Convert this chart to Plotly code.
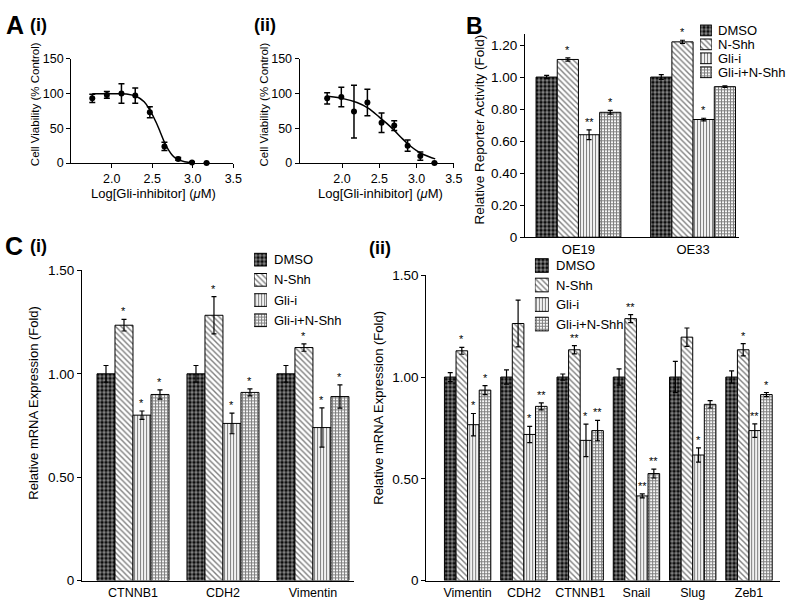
import plotly.graph_objects as go

FONT = "Liberation Sans, Arial, Helvetica, sans-serif"
W, H = 800, 613

# ---------------- panel A : dose response ----------------
a1_dose = [1.76, 1.94, 2.12, 2.29, 2.47, 2.65, 2.82, 2.99, 3.17]
a1_viab = [93, 98, 100, 97, 73, 24, 6, 1, 0]
a1_err = [6, 5, 14, 11, 8, 6, 2, 1, 0]
a1_fit_x = [1.76, 2.0, 2.2, 2.3, 2.4, 2.47, 2.55, 2.6, 2.65, 2.7, 2.75, 2.8, 2.9, 3.0]
a1_fit_y = [99.5, 99.5, 99, 96, 88, 76, 58, 44, 30, 19, 11, 6, 2, 0.5]

a2_dose = [1.80, 1.99, 2.16, 2.34, 2.53, 2.70, 2.88, 3.05, 3.24]
a2_viab = [93, 95, 74, 87, 58, 54, 25, 10, 0]
a2_err = [8, 14, 38, 19, 14, 7, 8, 6, 0]
a2_fit_x = [1.80, 2.0, 2.2, 2.35, 2.5, 2.6, 2.7, 2.8, 2.9, 3.0, 3.1, 3.25]
a2_fit_y = [96, 93, 87, 79, 66, 57, 47, 36, 26, 18, 12, 6]

# ---------------- shared treatment groups ----------------
groups = ["DMSO", "N-Shh", "Gli-i", "Gli-i+N-Shh"]

# ---------------- panel B : reporter activity ----------------
b_lines = ["OE19", "OE33"]
b_dmso = [1.00, 1.00]
b_nshh = [1.11, 1.22]
b_glii = [0.64, 0.735]
b_combo = [0.78, 0.94]
b_dmso_err = [0.01, 0.015]
b_nshh_err = [0.01, 0.01]
b_glii_err = [0.03, 0.008]
b_combo_err = [0.012, 0.005]
b_dmso_sig = ["", ""]
b_nshh_sig = ["*", "*"]
b_glii_sig = ["**", "*"]
b_combo_sig = ["*", ""]

# ---------------- panel C(i) ----------------
c1_genes = ["CTNNB1", "CDH2", "Vimentin"]
c1_dmso = [1.00, 1.00, 1.00]
c1_nshh = [1.235, 1.283, 1.127]
c1_glii = [0.80, 0.76, 0.74]
c1_combo = [0.90, 0.91, 0.89]
c1_dmso_err = [0.04, 0.04, 0.04]
c1_nshh_err = [0.028, 0.09, 0.018]
c1_glii_err = [0.02, 0.05, 0.095]
c1_combo_err = [0.022, 0.017, 0.056]
c1_dmso_sig = ["", "", ""]
c1_nshh_sig = ["*", "*", "*"]
c1_glii_sig = ["*", "*", "*"]
c1_combo_sig = ["*", "*", "*"]

# ---------------- panel C(ii) ----------------
c2_genes = ["Vimentin", "CDH2", "CTNNB1", "Snail", "Slug", "Zeb1"]
c2_dmso = [1.00, 1.00, 1.00, 1.00, 1.00, 1.00]
c2_nshh = [1.129, 1.263, 1.134, 1.287, 1.196, 1.134]
c2_glii = [0.766, 0.718, 0.689, 0.416, 0.617, 0.737]
c2_combo = [0.936, 0.856, 0.737, 0.526, 0.866, 0.914]
c2_dmso_err = [0.022, 0.035, 0.015, 0.04, 0.077, 0.03]
c2_nshh_err = [0.017, 0.115, 0.02, 0.02, 0.045, 0.03]
c2_glii_err = [0.055, 0.04, 0.08, 0.01, 0.035, 0.033]
c2_combo_err = [0.022, 0.017, 0.05, 0.022, 0.018, 0.01]
c2_dmso_sig = ["", "", "", "", "", ""]
c2_nshh_sig = ["*", "", "**", "**", "", "*"]
c2_glii_sig = ["*", "*", "*", "**", "*", "**"]
c2_combo_sig = ["*", "**", "**", "**", "", "*"]

patterns = {
    "DMSO": dict(shape=".", fgcolor="white", bgcolor="black", size=4, solidity=0.6),
    "N-Shh": dict(shape="\\", fgcolor="black", bgcolor="white", size=4, solidity=0.35),
    "Gli-i": dict(shape="|", fgcolor="black", bgcolor="white", size=3, solidity=0.4),
    "Gli-i+N-Shh": dict(shape="+", fgcolor="black", bgcolor="white", size=3, solidity=0.6),
}

fig = go.Figure()


def px_x(p):
    return p / W


def px_y(p):
    return 1 - p / H


def note(txt, x0, y0, size, angle=0, anchor="center"):
    fig.add_annotation(x=px_x(x0), y=px_y(y0), xref="paper", yref="paper", text=txt,
                       showarrow=False, xanchor=anchor, yanchor="middle", textangle=angle,
                       font=dict(size=size, family=FONT, color="black"))


# dose response panels
for n, (dx, vy, ey, fx, fy) in enumerate([(a1_dose, a1_viab, a1_err, a1_fit_x, a1_fit_y),
                                         (a2_dose, a2_viab, a2_err, a2_fit_x, a2_fit_y)]):
    ax = "" if n == 0 else "2"
    fig.add_trace(go.Scatter(x=fx, y=fy, mode="lines", line=dict(color="black", width=1.5, shape="spline"),
                             xaxis="x" + ax, yaxis="y" + ax, cliponaxis=False))
    fig.add_trace(go.Scatter(x=dx, y=vy, mode="markers", marker=dict(color="black", size=6),
                             error_y=dict(type="data", array=ey, color="black", thickness=1.5, width=3),
                             xaxis="x" + ax, yaxis="y" + ax, cliponaxis=False))


def bar_panel(ax, cats, vals, errs, sigs, bw):
    for i, g in enumerate(groups):
        xs = [k + (i - 1.5) * bw for k in range(len(cats))]
        fig.add_trace(go.Bar(
            x=xs, y=vals[i], width=bw, name=g,
            marker=dict(color="white", pattern=patterns[g], line=dict(color="black", width=1)),
            error_y=dict(type="data", array=errs[i], color="black", thickness=1.2, width=2.5),
            xaxis="x" + ax, yaxis="y" + ax))
        # significance stars sit just above each error bar
        for xv, v, e, s in zip(xs, vals[i], errs[i], sigs[i]):
            if s:
                fig.add_annotation(x=xv, y=v + e, xref="x" + ax, yref="y" + ax, text=s,
                                   showarrow=False, xanchor="center", yanchor="bottom",
                                   font=dict(size=11, family=FONT, color="black"))


def key_box(ax, left, right, first_row, step, icon_h, text_left, fsize):
    # hand-made legend: patterned squares on a hidden axis, labels beside them
    for i, g in enumerate(groups):
        fig.add_trace(go.Bar(
            x=[0], y=[icon_h / step], base=[i - icon_h / step / 2], width=1,
            marker=dict(color="white", pattern=patterns[g], line=dict(color="black", width=1)),
            xaxis="x" + ax, yaxis="y" + ax, hoverinfo="skip"))
        note(g, text_left, first_row + i * step, fsize, anchor="left")
    hidden = dict(visible=False, showgrid=False, zeroline=False, fixedrange=True)
    fig.update_layout(**{
        "xaxis" + ax: dict(domain=[px_x(left), px_x(right)], range=[-0.5, 0.5], anchor="y" + ax, **hidden),
        "yaxis" + ax: dict(domain=[px_y(first_row + 3.5 * step), px_y(first_row - 0.5 * step)],
                           range=[3.5, -0.5], anchor="x" + ax, **hidden),
    })


bar_panel("3", b_lines, [b_dmso, b_nshh, b_glii, b_combo],
          [b_dmso_err, b_nshh_err, b_glii_err, b_combo_err],
          [b_dmso_sig, b_nshh_sig, b_glii_sig, b_combo_sig], 0.185)
bar_panel("4", c1_genes, [c1_dmso, c1_nshh, c1_glii, c1_combo],
          [c1_dmso_err, c1_nshh_err, c1_glii_err, c1_combo_err],
          [c1_dmso_sig, c1_nshh_sig, c1_glii_sig, c1_combo_sig], 0.2)
bar_panel("5", c2_genes, [c2_dmso, c2_nshh, c2_glii, c2_combo],
          [c2_dmso_err, c2_nshh_err, c2_glii_err, c2_combo_err],
          [c2_dmso_sig, c2_nshh_sig, c2_glii_sig, c2_combo_sig], 0.206)

key_box("6", 708, 720, 24, 14.3, 11, 724, 13)
key_box("7", 257, 270, 259, 20.7, 13, 275, 13)
key_box("8", 541, 555, 265, 20, 14, 560, 13)

axis_common = dict(showline=True, linecolor="black", linewidth=1, showgrid=False, zeroline=False,
                   tickcolor="black")
tick_a = dict(size=12.5, color="black", family=FONT)
tick_bc = dict(size=13.5, color="black", family=FONT)

fig.update_layout(
    width=W, height=H, margin=dict(l=0, r=0, t=0, b=0),
    paper_bgcolor="white", plot_bgcolor="white", barmode="overlay",
    font=dict(family=FONT, color="black"), showlegend=False,
    xaxis=dict(domain=[px_x(72), px_x(236)], range=[1.5, 3.5], anchor="y",
               tickvals=[2.0, 2.5, 3.0, 3.5], ticktext=["2.0", "2.5", "3.0", "3.5"], tickfont=tick_a,
               ticks="outside", ticklen=4, **axis_common),
    yaxis=dict(domain=[px_y(160), px_y(53)], range=[0, 150], anchor="x", tickfont=tick_a,
               tickvals=[0, 50, 100, 150], ticks="outside", ticklen=4, **axis_common),
    xaxis2=dict(domain=[px_x(303), px_x(459)], range=[1.43, 3.5], anchor="y2",
                tickvals=[2.0, 2.5, 3.0, 3.5], ticktext=["2.0", "2.5", "3.0", "3.5"], tickfont=tick_a,
                ticks="outside", ticklen=4, **axis_common),
    yaxis2=dict(domain=[px_y(160), px_y(53)], range=[0, 150], anchor="x2", tickfont=tick_a,
                tickvals=[0, 50, 100, 150], ticks="outside", ticklen=4, **axis_common),
    xaxis3=dict(domain=[px_x(531), px_x(747)], range=[-0.466, 1.397], anchor="y3",
                tickvals=list(range(len(b_lines))), ticktext=b_lines, ticks="",
                tickfont=dict(size=13, color="black", family=FONT), **axis_common),
    yaxis3=dict(domain=[px_y(236), px_y(28)], range=[0, 1.267], anchor="x3", tickfont=tick_bc,
                tickvals=[0, 0.2, 0.4, 0.6, 0.8, 1.0, 1.2],
                ticktext=["0", "0.20", "0.40", "0.60", "0.80", "1.00", "1.20"],
                ticks="outside", ticklen=4, **axis_common),
    xaxis4=dict(domain=[px_x(83), px_x(358)], range=[-0.566, 2.456], anchor="y4",
                tickvals=list(range(len(c1_genes))), ticktext=c1_genes, ticks="",
                tickfont=dict(size=12.5, color="black", family=FONT), **axis_common),
    yaxis4=dict(domain=[px_y(588), px_y(270)], range=[0, 1.5], anchor="x4", tickfont=tick_bc,
                tickvals=[0, 0.5, 1.0, 1.5], ticktext=["0", "0.50", "1.00", "1.50"],
                ticks="outside", ticklen=4, **axis_common),
    xaxis5=dict(domain=[px_x(431), px_x(789)], range=[-0.737, 5.553], anchor="y5",
                tickvals=list(range(len(c2_genes))), ticktext=c2_genes, ticks="",
                tickfont=dict(size=12.5, color="black", family=FONT), **axis_common),
    yaxis5=dict(domain=[px_y(588), px_y(275)], range=[0, 1.5], anchor="x5", tickfont=tick_bc,
                tickvals=[0, 0.5, 1.0, 1.5], ticktext=["0", "0.50", "1.00", "1.50"],
                ticks="outside", ticklen=4, **axis_common),
)

# axis titles
note("Log[Gli-inhibitor] (<i>μ</i>M)", 155, 191, 13)
note("Log[Gli-inhibitor] (<i>μ</i>M)", 385, 191, 13)
note("Cell Viability (% Control)", 35, 100, 11.5, angle=-90)
note("Cell Viability (% Control)", 267, 100, 11.5, angle=-90)
note("Relative Reporter Activity (Fold)", 485, 126, 13.5, angle=-90)
note("Relative mRNA Expression (Fold)", 33, 406, 13, angle=-90)
note("Relative mRNA Expression (Fold)", 383, 411, 13, angle=-90)

# panel letters
for txt, x0, y0, sz in [("A", 15, 18, 25), ("(i)", 39, 18, 18), ("(ii)", 268, 18, 18), ("B", 480, 19, 23),
                        ("C", 14, 245, 25), ("(i)", 39, 245, 18), ("(ii)", 384, 247, 18)]:
    note("<b>" + txt + "</b>", x0, y0, sz)

fig.update_traces(showlegend=False)
fig.write_html("out.html", config={"displayModeBar": False},
               post_script="document.body.style.margin='0px';")
